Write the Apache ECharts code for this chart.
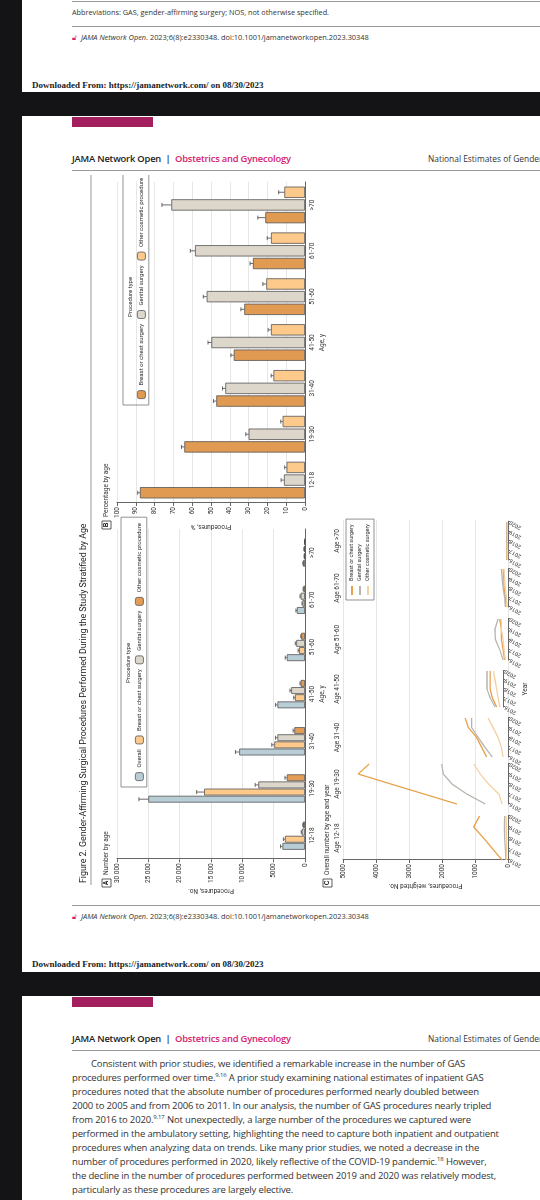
<!DOCTYPE html>
<html><head><meta charset="utf-8">
<script src="https://cdn.jsdelivr.net/npm/echarts@6/dist/echarts.min.js"></script>
<style>
body{margin:0;width:540px;height:1200px;background:#141417;overflow:hidden;position:relative;font-family:"Open Sans","Noto Sans",sans-serif;color:#222}
.pg{position:absolute;left:22px;width:518px;background:#fff;overflow:hidden}
.t{position:absolute;white-space:nowrap}
.rule{position:absolute;left:50px;right:0;height:1px;background:#9a9a9a}
.pink{position:absolute;left:50px;width:81px;background:#a31f5e}
.dl{position:absolute;left:10px;font-family:"Liberation Serif","DejaVu Serif",serif;font-weight:bold;font-size:9px;white-space:nowrap}
.hdr{position:absolute;left:50px;font-size:9.4px;font-weight:600;letter-spacing:-0.2px;white-space:nowrap}
.hdr span{color:#d6226f}
.nat{position:absolute;left:406px;font-size:8.4px;color:#333;white-space:nowrap}
.cit{position:absolute;left:50px;font-size:7.4px;font-style:italic;color:#333;white-space:nowrap}
.cit b{font-style:normal;color:#d6226f;font-weight:normal;margin-right:4px}
#fig{position:absolute;left:70px;top:895px;width:720px;height:460px;transform-origin:0 0;transform:rotate(-90deg)}
.p{position:absolute;left:50px;font-size:9.5px;line-height:14px;color:#333;letter-spacing:-0.15px;white-space:nowrap}
.p sup{font-size:6px;line-height:0;vertical-align:0;position:relative;top:-4px}
</style></head><body>
<div class="pg" style="top:0;height:92px">
 <div class="rule" style="top:1px"></div>
 <div class="t" style="left:50px;top:7px;font-size:7.3px;color:#333">Abbreviations: GAS, gender-affirming surgery; NOS, not otherwise specified.</div>
 <div class="rule" style="top:26px"></div>
 <div class="cit" style="top:32px"><b>&#x1F513;&#xFE0E;</b>JAMA Network Open.<span style="font-style:normal"> 2023;6(8):e2330348. doi:10.1001/jamanetworkopen.2023.30348</span></div>
 <div class="dl" style="top:80px">Downloaded From: https://jamanetwork.com/ on 08/30/2023</div>
</div>
<div class="pg" style="top:116px;height:856px">
 <div class="pink" style="top:1px;height:10px"></div>
 <div class="hdr" style="top:36px">JAMA Network Open &nbsp;| &nbsp;<span>Obstetrics and Gynecology</span></div>
 <div class="nat" style="top:37px">National Estimates of Gender-</div>
 <div class="rule" style="top:54px"></div>
 <div class="rule" style="top:789px"></div>
 <div class="cit" style="top:795px"><b>&#x1F513;&#xFE0E;</b>JAMA Network Open.<span style="font-style:normal"> 2023;6(8):e2330348. doi:10.1001/jamanetworkopen.2023.30348</span></div>
 <div class="dl" style="top:843px">Downloaded From: https://jamanetwork.com/ on 08/30/2023</div>
</div>
<div class="pg" style="top:996px;height:204px">
 <div class="pink" style="top:1px;height:10px"></div>
 <div class="hdr" style="top:36px">JAMA Network Open &nbsp;| &nbsp;<span>Obstetrics and Gynecology</span></div>
 <div class="nat" style="top:37px">National Estimates of Gender-</div>
 <div class="rule" style="top:54px"></div>
 <div class="p" style="top:61px">
 <div style="text-indent:19px">Consistent with prior studies, we identified a remarkable increase in the number of GAS</div>
 <div>procedures performed over time.<sup>9,16</sup> A prior study examining national estimates of inpatient GAS</div>
 <div>procedures noted that the absolute number of procedures performed nearly doubled between</div>
 <div>2000 to 2005 and from 2006 to 2011. In our analysis, the number of GAS procedures nearly tripled</div>
 <div>from 2016 to 2020.<sup>9,17</sup> Not unexpectedly, a large number of the procedures we captured were</div>
 <div>performed in the ambulatory setting, highlighting the need to capture both inpatient and outpatient</div>
 <div>procedures when analyzing data on trends. Like many prior studies, we noted a decrease in the</div>
 <div>number of procedures performed in 2020, likely reflective of the COVID-19 pandemic.<sup>18</sup> However,</div>
 <div>the decline in the number of procedures performed between 2019 and 2020 was relatively modest,</div>
 <div>particularly as these procedures are largely elective.</div>
 </div>
</div>
<div id="fig"></div>
<script>
// ---------- data ----------
var ages = ['12-18','19-30','31-40','41-50','51-60','61-70','>70'];
var aOverall = [3600,25000,10500,4400,2900,1300,300];
var aBreast  = [3200,16100,4900,1600,950,400,120];
var aGenital = [500,7450,4400,2200,1400,700,150];
var aOther   = [300,2900,1700,700,600,250,60];
var aErrOverall = [300,1500,600,300,250,150,50];
var aErrBreast  = [250,1200,400,200,150,80,30];
var aErrGenital = [100,500,300,200,150,100,30];
var aErrOther   = [60,300,200,100,80,50,20];
var bBreast  = [87.8,64.2,47.2,37.9,32.3,27.7,21.1];
var bGenital = [11.2,30.0,42.4,49.8,52.3,58.5,71.1];
var bOther   = [9.8,11.9,16.8,18.1,20.6,18.1,11.0];
var bErrBreast  = [1.2,1.5,1.5,1.5,1.8,1.5,4];
var bErrGenital = [1.5,1.5,1.5,1.8,1.8,2.5,5];
var bErrOther   = [1.0,1.0,1.2,1.5,1.8,2.0,3];
var years = ['2016','2017','2018','2019','2020'];
var cBreast = [
 [180,460,740,1040,860],
 [1550,2550,3550,4540,4210],
 [650,800,950,1200,1300],
 [200,330,400,400,400],
 [100,150,200,200,250],
 [50,80,120,130,150],
 [30,30,40,40,40]];
var cGenital = [
 [60,80,100,110,100],
 [690,1250,1700,1960,2010],
 [480,700,900,1100,1100],
 [250,400,500,500,500],
 [150,250,380,400,300],
 [80,100,150,180,200],
 [20,25,30,30,30]];
var cOther = [
 [40,40,50,50,60],
 [180,280,590,840,1040],
 [150,200,300,450,600],
 [100,150,200,250,300],
 [80,120,150,200,200],
 [30,50,80,100,120],
 [10,15,20,20,20]];

// ---------- chart ----------
var el = document.getElementById('fig');
var chart = echarts.init(el, null, {renderer:'canvas', width:720, height:460});
var FF = 'Roboto,"Noto Sans",sans-serif';
var txt = '#333';
function fmtNum(v){ return v>=10000 ? String(v).replace(/(\d+)(\d{3})$/,'$1 $2') : String(v); }
function plain(v){ return String(v); }
function errSeries(name, xi, vals, errs, n, i, gap, bg){
  return {type:'custom', name:name, xAxisIndex:xi, yAxisIndex:xi, z:5, silent:true,
    data: vals.map(function(v,k){return [k, v, v+errs[k]];}),
    encode:{x:0, y:[1,2]},
    renderItem:function(params, api){
      var c=api.value(0), lo=api.value(1), hi=api.value(2);
      var bw=api.size([1,0])[0];
      var barW=bw*(1-gap)/(n+(n-1)*bg);
      var gw=barW*(n+(n-1)*bg);
      var x=api.coord([c,0])[0]-gw/2+i*barW*(1+bg)+barW/2;
      var y1=api.coord([c,lo])[1], y2=api.coord([c,hi])[1];
      return {type:'group', children:[
        {type:'line', shape:{x1:x,y1:y1,x2:x,y2:y2}, style:{stroke:'#444',lineWidth:0.8}},
        {type:'line', shape:{x1:x-2,y1:y2,x2:x+2,y2:y2}, style:{stroke:'#444',lineWidth:0.8}}]};
    }};
}
var aCol = {o:'#b9cdd7', b:'#fdca8c', g:'#dcd6cb', t:'#e29c55'};
var bCol = {b:'#e19a52', g:'#dcd6cb', t:'#fdca8c'};
var cCol = {b:'#e8a148', g:'#b8b3ad', t:'#f6d0a3'};
function bar(name, xi, data, color, gap, bg){
  return {type:'bar', name:name, xAxisIndex:xi, yAxisIndex:xi, data:data, barCategoryGap:gap, barGap:bg,
    itemStyle:{color:color, borderColor:'#555', borderWidth:0.8}};
}
var facetLeft = [35,91,138,188,235,288,335];
var facetWidth = [44,40,39,36,41,38,38];
var grids = [
  {left:35, top:47, width:331, height:188},
  {left:392, top:47, width:321, height:188},
  {left:35, top:273, width:340, height:165}
];
var lblStyle = {fontSize:6.5, color:txt, fontFamily:FF};
var xAxes = [
  {gridIndex:0, type:'category', data:ages, axisTick:{show:false}, axisLine:{lineStyle:{color:'#666'}},
   axisLabel:Object.assign({margin:4}, lblStyle), name:'Age, y', nameLocation:'middle', nameGap:14, nameTextStyle:lblStyle},
  {gridIndex:1, type:'category', data:ages, axisTick:{show:false}, axisLine:{lineStyle:{color:'#666'}},
   axisLabel:Object.assign({margin:4}, lblStyle), name:'Age, y', nameLocation:'middle', nameGap:14, nameTextStyle:lblStyle},
  {gridIndex:2, type:'value', show:false, min:0, max:1}
];
var yAxes = [
  {gridIndex:0, type:'value', min:0, max:30000, interval:5000, axisLine:{show:true, lineStyle:{color:'#666'}},
   axisTick:{show:true, length:3}, splitLine:{lineStyle:{color:'#e6e6e6'}},
   axisLabel:Object.assign({formatter:fmtNum, margin:4}, lblStyle), name:'Procedures, No.', nameLocation:'middle',
   nameGap:27, nameTextStyle:lblStyle},
  {gridIndex:1, type:'value', min:0, max:100, interval:10, axisLine:{show:true, lineStyle:{color:'#666'}},
   axisTick:{show:true, length:3}, splitLine:{lineStyle:{color:'#e6e6e6'}},
   axisLabel:Object.assign({margin:4}, lblStyle), name:'Procedures, %', nameLocation:'middle',
   nameGap:20, nameTextStyle:lblStyle},
  {gridIndex:2, type:'value', min:0, max:5000, interval:1000, axisLine:{show:true, lineStyle:{color:'#666'}},
   axisTick:{show:true, length:3}, splitLine:{lineStyle:{color:'#e6e6e6'}},
   axisLabel:Object.assign({formatter:plain, margin:4}, lblStyle), name:'Procedures, weighted No.', nameLocation:'middle',
   nameGap:22, nameTextStyle:lblStyle}
];
var titles = [];
function ttl(text, left, top, size, align){
  return {text:text, left:left, top:top, padding:0, textAlign:align||'left',
    textStyle:{fontSize:size, fontWeight:'normal', color:txt, fontFamily:FF}};
}
ages.forEach(function(a,k){
  grids.push({left:facetLeft[k], top:273, width:facetWidth[k], height:165});
  xAxes.push({gridIndex:3+k, type:'category', data:years, boundaryGap:false,
    axisLine:{lineStyle:{color:'#666'}}, axisTick:{show:true, length:2, alignWithLabel:true},
    axisLabel:{fontSize:5.5, color:txt, rotate:60, margin:2, interval:0, fontFamily:FF},
    name: k===3 ? 'Year' : '', nameLocation:'middle', nameGap:19, nameTextStyle:lblStyle});
  yAxes.push({gridIndex:3+k, type:'value', min:0, max:5000, show:false, splitLine:{show:false}});
  titles.push(ttl('Age '+a, facetLeft[k]+facetWidth[k]/2, 264, 6.5, 'center'));
});
var ft = ttl('Figure 2. Gender-Affirming Surgical Procedures Performed During the Study Stratified by Age', 12, 9, 8.8);
ft.textStyle.color = '#222';
titles.push(ft);
titles.push(ttl('Number by age', 20, 33, 6.5));
titles.push(ttl('Percentage by age', 378, 33, 6.5));
titles.push(ttl('Overall number by age and year', 20, 254, 6.5));
titles.push(ttl('Procedure type', 232, 55, 6, 'center'));
titles.push(ttl('Procedure type', 598, 57, 6, 'center'));

var series = [
  bar('A|Overall',0,aOverall,aCol.o,'40%','4%'),
  bar('A|Breast or chest surgery',0,aBreast,aCol.b,'40%','4%'),
  bar('A|Genital surgery',0,aGenital,aCol.g,'40%','4%'),
  bar('A|Other cosmetic procedure',0,aOther,aCol.t,'40%','4%'),
  errSeries('eA0',0,aOverall,aErrOverall,4,0,0.4,0.04),
  errSeries('eA1',0,aBreast,aErrBreast,4,1,0.4,0.04),
  errSeries('eA2',0,aGenital,aErrGenital,4,2,0.4,0.04),
  errSeries('eA3',0,aOther,aErrOther,4,3,0.4,0.04),
  bar('B|Breast or chest surgery',1,bBreast,bCol.b,'20%','12%'),
  bar('B|Genital surgery',1,bGenital,bCol.g,'20%','12%'),
  bar('B|Other cosmetic procedure',1,bOther,bCol.t,'20%','12%'),
  errSeries('eB0',1,bBreast,bErrBreast,3,0,0.2,0.12),
  errSeries('eB1',1,bGenital,bErrGenital,3,1,0.2,0.12),
  errSeries('eB2',1,bOther,bErrOther,3,2,0.2,0.12)
];
ages.forEach(function(a,k){
  [['C|Breast or chest surgery',cBreast,cCol.b],['C|Genital surgery',cGenital,cCol.g],['C|Other cosmetic surgery',cOther,cCol.t]].forEach(function(s){
    series.push({type:'line', name:s[0], xAxisIndex:3+k, yAxisIndex:3+k, data:s[1][k], showSymbol:false, symbol:'none',
      lineStyle:{color:s[2], width:1.3}, itemStyle:{color:s[2]}});
  });
});
function strip(n){ return n.split('|')[1]; }
var legendCommon = {formatter:strip, textStyle:{fontSize:6, color:txt, fontFamily:FF}, borderColor:'#777', borderWidth:0.8,
  itemGap:5, selectedMode:false, width:300};
chart.setOption({
  animation:false,
  textStyle:{fontFamily:FF},
  title:titles,
  grid:grids,
  xAxis:xAxes,
  yAxis:yAxes,
  legend:[
    Object.assign({}, legendCommon, {data:['A|Overall','A|Breast or chest surgery','A|Genital surgery','A|Other cosmetic procedure'],
      left:108, top:51, padding:[14,6,3,6], itemWidth:8, itemHeight:8, itemStyle:{borderColor:'#555',borderWidth:0.8}}),
    Object.assign({}, legendCommon, {data:['B|Breast or chest surgery','B|Genital surgery','B|Other cosmetic procedure'],
      left:490, top:53, padding:[14,6,3,6], itemWidth:8, itemHeight:8, itemStyle:{borderColor:'#555',borderWidth:0.8}}),
    Object.assign({}, legendCommon, {data:['C|Breast or chest surgery','C|Genital surgery','C|Other cosmetic surgery'],
      left:295, top:276, orient:'vertical', padding:[3,5,3,5], itemGap:2, itemWidth:9, itemHeight:2, icon:'rect',
      textStyle:{fontSize:5.5, color:txt, fontFamily:FF}})
  ],
  graphic:[
    {type:'line', shape:{x1:10,y1:21,x2:720,y2:21}, style:{stroke:'#999',lineWidth:1}},
    {type:'rect', shape:{x:8,y:32,width:8,height:9}, style:{fill:'#fff',stroke:'#333',lineWidth:0.8}},
    {type:'text', x:12, y:36.5, style:{text:'A', fontSize:6.5, fontWeight:'bold', fill:'#222', align:'center', verticalAlign:'middle'}},
    {type:'rect', shape:{x:366,y:32,width:8,height:9}, style:{fill:'#fff',stroke:'#333',lineWidth:0.8}},
    {type:'text', x:370, y:36.5, style:{text:'B', fontSize:6.5, fontWeight:'bold', fill:'#222', align:'center', verticalAlign:'middle'}},
    {type:'rect', shape:{x:8,y:253,width:8,height:9}, style:{fill:'#fff',stroke:'#333',lineWidth:0.8}},
    {type:'text', x:12, y:257.5, style:{text:'C', fontSize:6.5, fontWeight:'bold', fill:'#222', align:'center', verticalAlign:'middle'}}
  ],
  series:series
});
</script>
</body></html>
